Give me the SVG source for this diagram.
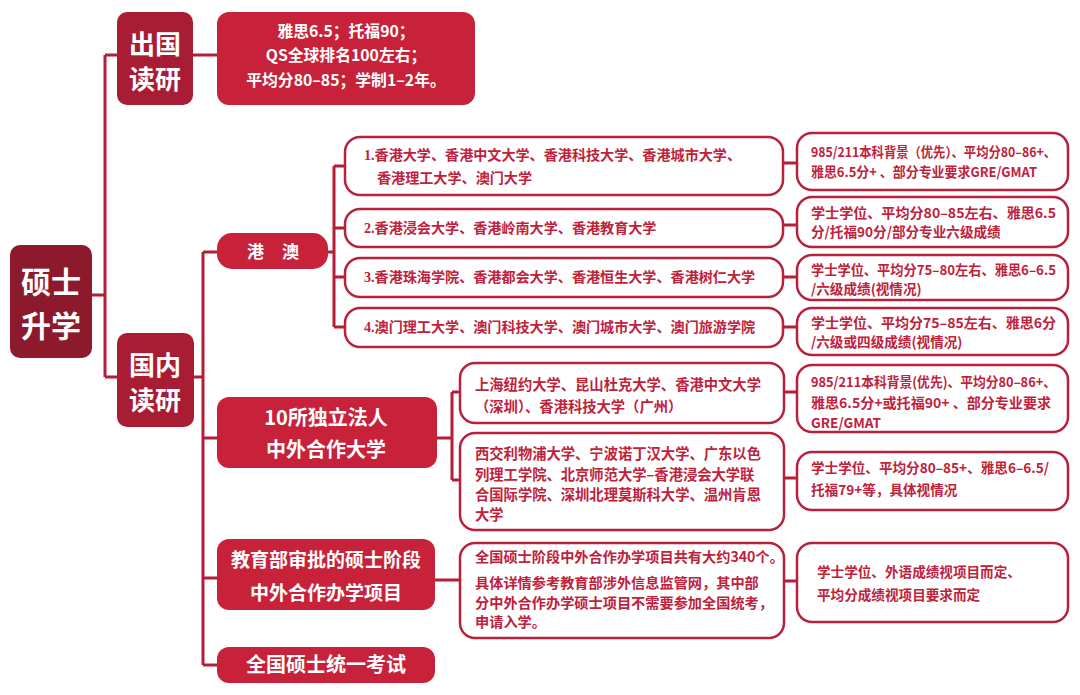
<svg xmlns="http://www.w3.org/2000/svg" width="1080" height="695" viewBox="0 0 1080 695">
<style>
.bg{fill:#ffffff}
.root{fill:#8C1A2C}
.l1{fill:#A81D33}
.fill{fill:#C8223A}
.box{fill:#ffffff;stroke:#B8213B;stroke-width:2.5}
.cn{stroke:#B41F37;stroke-width:3;fill:none}
text{font-family:"Noto Sans CJK SC","Noto Sans",sans-serif;font-weight:700}
.w{fill:#ffffff;text-anchor:middle}
.r{fill:#C0213B}
.q{font-size:13.6px}
.num{font-family:"Liberation Serif",serif}
</style>
<rect class="bg" x="0" y="0" width="1080" height="695"/>
<g id="connectors">
<path class="cn" d="M92 295H105M105 55V377M105 55H117M105 377H117"/>
<path class="cn" d="M193 55H217"/>
<path class="cn" d="M194 377H203M203 252V665M203 252H217M203 438H217M203 578H217M203 665H217"/>
<path class="cn" d="M328 252H334M334 166V327M334 166H345M334 228H345M334 277H345M334 327H345"/>
<path class="cn" d="M783 163H797M783 225H797M783 277H797M783 327H797"/>
<path class="cn" d="M437 438H452M452 392V480M452 392H460M452 480H460"/>
<path class="cn" d="M784 392H797M784 478H797"/>
<path class="cn" d="M435 580H460M784 581H797"/>
</g>
<g id="root">
<rect class="root" x="10" y="245" width="82" height="113" rx="10"/>
<text class="w" x="51" y="293" font-size="30">硕士</text>
<text class="w" x="51" y="337" font-size="30">升学</text>
</g>
<g id="abroad">
<rect class="l1" x="117" y="12" width="76" height="93" rx="10"/>
<text class="w" x="155" y="54" font-size="26">出国</text>
<text class="w" x="155" y="89" font-size="26">读研</text>
</g>
<g id="abroad-detail">
<rect class="fill" x="217" y="12" width="258" height="93" rx="12"/>
<text class="w" x="346" y="37" font-size="15.8">雅思6.5；托福90；</text>
<text class="w" x="346" y="61" font-size="15.8">QS全球排名100左右；</text>
<text class="w" x="346" y="86" font-size="15.8">平均分80–85；学制1–2年。</text>
</g>
<g id="domestic">
<rect class="l1" x="117" y="333" width="77" height="94" rx="10"/>
<text class="w" x="155" y="375" font-size="26">国内</text>
<text class="w" x="155" y="410" font-size="26">读研</text>
</g>
<g id="hkmacau">
<rect class="fill" x="217" y="233" width="111" height="36" rx="15"/>
<text class="w" x="273" y="258" font-size="17" word-spacing="14">港 澳</text>
</g>
<g id="hk1">
<rect class="box" x="345" y="137" width="438" height="58" rx="15"/>
<text class="r" x="364" y="160" font-size="14.1"><tspan class="num">1.</tspan>香港大学、香港中文大学、香港科技大学、香港城市大学、</text>
<text class="r" x="377" y="183" font-size="14.1">香港理工大学、澳门大学</text>
</g>
<g id="hk2">
<rect class="box" x="345" y="209" width="438" height="38" rx="15"/>
<text class="r" x="364" y="233" font-size="14.1"><tspan class="num">2.</tspan>香港浸会大学、香港岭南大学、香港教育大学</text>
</g>
<g id="hk3">
<rect class="box" x="345" y="258" width="438" height="39" rx="15"/>
<text class="r" x="364" y="282" font-size="14.1"><tspan class="num">3.</tspan>香港珠海学院、香港都会大学、香港恒生大学、香港树仁大学</text>
</g>
<g id="hk4">
<rect class="box" x="345" y="308" width="438" height="39" rx="15"/>
<text class="r" x="364" y="332" font-size="14.1"><tspan class="num">4.</tspan>澳门理工大学、澳门科技大学、澳门城市大学、澳门旅游学院</text>
</g>
<g id="req1">
<rect class="box" x="797" y="133" width="271" height="57" rx="15"/>
<text class="r q" x="811" y="157" textLength="245" lengthAdjust="spacingAndGlyphs">985/211本科背景（优先）、平均分80–86+、</text>
<text class="r q" x="811" y="177" textLength="226" lengthAdjust="spacingAndGlyphs">雅思6.5分+ 、部分专业要求GRE/GMAT</text>
</g>
<g id="req2">
<rect class="box" x="797" y="197" width="271" height="50" rx="15"/>
<text class="r q" x="811" y="218" textLength="245" lengthAdjust="spacingAndGlyphs">学士学位、平均分80–85左右、雅思6.5</text>
<text class="r q" x="811" y="237">分/托福90分/部分专业六级成绩</text>
</g>
<g id="req3">
<rect class="box" x="797" y="255" width="271" height="45" rx="15"/>
<text class="r q" x="811" y="275" textLength="245" lengthAdjust="spacingAndGlyphs">学士学位、平均分75–80左右、雅思6–6.5</text>
<text class="r q" x="811" y="294">/六级成绩(视情况)</text>
</g>
<g id="req4">
<rect class="box" x="797" y="308" width="271" height="47" rx="15"/>
<text class="r q" x="811" y="328" textLength="245" lengthAdjust="spacingAndGlyphs">学士学位、平均分75–85左右、雅思6分</text>
<text class="r q" x="811" y="347">/六级或四级成绩(视情况)</text>
</g>
<g id="sino">
<rect class="fill" x="217" y="397" width="220" height="71" rx="12"/>
<text class="w" x="326" y="425" font-size="20">10所独立法人</text>
<text class="w" x="326" y="457" font-size="20">中外合作大学</text>
</g>
<g id="sino1">
<rect class="box" x="460" y="363" width="324" height="60" rx="15"/>
<text class="r" x="475" y="390" font-size="14.3">上海纽约大学、昆山杜克大学、香港中文大学</text>
<text class="r" x="475" y="412" font-size="14.3">（深圳）、香港科技大学（广州）</text>
</g>
<g id="sino2">
<rect class="box" x="460" y="433" width="324" height="97" rx="15"/>
<text class="r" x="475" y="459" font-size="14.3">西交利物浦大学、宁波诺丁汉大学、广东以色</text>
<text class="r" x="475" y="480" font-size="14.3">列理工学院、北京师范大学–香港浸会大学联</text>
<text class="r" x="475" y="500" font-size="14.3">合国际学院、深圳北理莫斯科大学、温州肯恩</text>
<text class="r" x="475" y="520" font-size="14.3">大学</text>
</g>
<g id="req5">
<rect class="box" x="797" y="365" width="271" height="67" rx="15"/>
<text class="r q" x="811" y="387" textLength="245" lengthAdjust="spacingAndGlyphs">985/211本科背景(优先)、平均分80–86+、</text>
<text class="r q" x="811" y="408" textLength="240" lengthAdjust="spacingAndGlyphs">雅思6.5分+或托福90+ 、部分专业要求</text>
<text class="r q" x="811" y="428">GRE/GMAT</text>
</g>
<g id="req6">
<rect class="box" x="797" y="452" width="271" height="58" rx="15"/>
<text class="r q" x="811" y="473" textLength="238" lengthAdjust="spacingAndGlyphs">学士学位、平均分80–85+、雅思6–6.5/</text>
<text class="r q" x="811" y="495">托福79+等，具体视情况</text>
</g>
<g id="moe">
<rect class="fill" x="217" y="539" width="218" height="71" rx="12"/>
<text class="w" x="326" y="567" font-size="19">教育部审批的硕士阶段</text>
<text class="w" x="326" y="600" font-size="19">中外合作办学项目</text>
</g>
<g id="moe-detail">
<rect class="box" x="460" y="543" width="324" height="95" rx="15"/>
<text class="r" x="475" y="562" font-size="14.2">全国硕士阶段中外合作办学项目共有大约340个。</text>
<text class="r" x="475" y="588" font-size="14.2">具体详情参考教育部涉外信息监管网，其中部</text>
<text class="r" x="475" y="608" font-size="14.2">分中外合作办学硕士项目不需要参加全国统考，</text>
<text class="r" x="475" y="627" font-size="14.2">申请入学。</text>
</g>
<g id="req7">
<rect class="box" x="797" y="543" width="271" height="79" rx="15"/>
<text class="r q" x="817" y="577">学士学位、外语成绩视项目而定、</text>
<text class="r q" x="817" y="600">平均分成绩视项目要求而定</text>
</g>
<g id="exam">
<rect class="fill" x="217" y="647" width="218" height="36" rx="12"/>
<text class="w" x="326" y="672" font-size="20">全国硕士统一考试</text>
</g>
</svg>
